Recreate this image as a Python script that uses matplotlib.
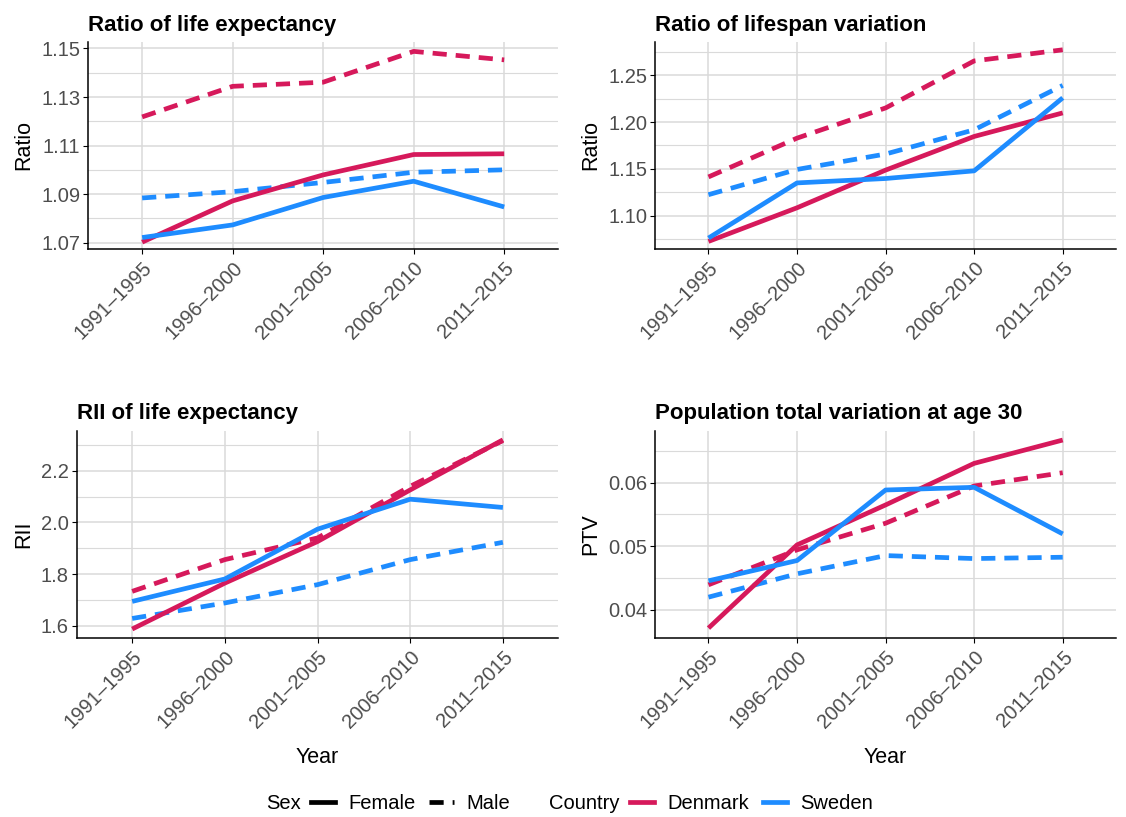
import matplotlib
matplotlib.use('Agg')
import matplotlib.pyplot as plt
from matplotlib.lines import Line2D
from matplotlib.ticker import FixedLocator

plt.rcParams['font.family'] = ['Liberation Sans', 'DejaVu Sans']

periods = ['1991–1995', '1996–2000', '2001–2005', '2006–2010', '2011–2015']

# Ratio of life expectancy
le_dk_f = [1.0702, 1.0872, 1.0979, 1.1063, 1.1066]
le_dk_m = [1.1218, 1.1344, 1.1361, 1.1488, 1.1453]
le_se_f = [1.0721, 1.0773, 1.0886, 1.0953, 1.0847]
le_se_m = [1.0884, 1.0910, 1.0948, 1.0990, 1.1000]

# Ratio of lifespan variation
lv_dk_f = [1.0723, 1.1083, 1.1486, 1.1846, 1.2098]
lv_dk_m = [1.1413, 1.1828, 1.2151, 1.2654, 1.2773]
lv_se_f = [1.0759, 1.1349, 1.1396, 1.1478, 1.2259]
lv_se_m = [1.1223, 1.1493, 1.1658, 1.1917, 1.2392]

# RII of life expectancy
rii_dk_f = [1.587, 1.765, 1.926, 2.126, 2.320]
rii_dk_m = [1.733, 1.856, 1.940, 2.140, 2.317]
rii_se_f = [1.694, 1.781, 1.974, 2.090, 2.058]
rii_se_m = [1.628, 1.688, 1.759, 1.856, 1.923]

# Population total variation at age 30
ptv_dk_f = [0.03712, 0.05021, 0.05650, 0.06304, 0.06671]
ptv_dk_m = [0.04393, 0.04943, 0.05362, 0.05948, 0.06157]
ptv_se_f = [0.04456, 0.04775, 0.05885, 0.05927, 0.05194]
ptv_se_m = [0.04199, 0.04566, 0.04853, 0.04806, 0.04827]

# y ticks per panel
le_ticks = [1.07, 1.09, 1.11, 1.13, 1.15]
lv_ticks = [1.10, 1.15, 1.20, 1.25]
rii_ticks = [1.6, 1.8, 2.0, 2.2]
ptv_ticks = [0.04, 0.05, 0.06]

DK = '#D6195B'
SE = '#1E8CFF'
GRID = '#DADADA'
DASH = (0, (3.0, 1.9))
LW = 3.4
TICK_FS = 14.5
TICK_COL = '#4D4D4D'
LEG_FS = 14.5

panels = [
    ('Ratio of life expectancy', 'Ratio', (le_dk_f, le_dk_m, le_se_f, le_se_m),
     (1.0673, 1.1528), le_ticks, '{:.2f}', [0.078, 0.695, 0.418, 0.254]),
    ('Ratio of lifespan variation', 'Ratio', (lv_dk_f, lv_dk_m, lv_se_f, lv_se_m),
     (1.064, 1.286), lv_ticks, '{:.2f}', [0.582, 0.695, 0.409, 0.254]),
    ('RII of life expectancy', 'RII', (rii_dk_f, rii_dk_m, rii_se_f, rii_se_m),
     (1.552, 2.356), rii_ticks, '{:.1f}', [0.068, 0.219, 0.428, 0.254]),
    ('Population total variation at age 30', 'PTV', (ptv_dk_f, ptv_dk_m, ptv_se_f, ptv_se_m),
     (0.03555, 0.0682), ptv_ticks, '{:.2f}', [0.582, 0.219, 0.409, 0.254]),
]

fig = plt.figure(figsize=(11.26, 8.17), dpi=100)
fig.patch.set_facecolor('white')

x = list(range(len(periods)))
for i, (title, ylab, (dk_f, dk_m, se_f, se_m), ylim, ticks, fmt, rect) in enumerate(panels):
    ax = fig.add_axes(rect)
    ax.plot(x, dk_m, color=DK, lw=LW, ls=DASH, dash_capstyle='butt')
    ax.plot(x, se_m, color=SE, lw=LW, ls=DASH, dash_capstyle='butt')
    ax.plot(x, dk_f, color=DK, lw=LW, solid_capstyle='butt')
    ax.plot(x, se_f, color=SE, lw=LW, solid_capstyle='butt')

    ax.set_xlim(-0.6, 4.6)
    ax.set_ylim(*ylim)
    ax.set_xticks(x)
    ax.set_xticklabels(periods, rotation=45, ha='right', rotation_mode='anchor',
                       fontsize=TICK_FS, color=TICK_COL)

    # minor grid lines sit halfway between the labelled ones
    step = ticks[1] - ticks[0]
    minors = [t - step / 2 for t in ticks] + [ticks[-1] + step / 2]
    ax.yaxis.set_major_locator(FixedLocator(ticks))
    ax.yaxis.set_minor_locator(FixedLocator(minors))
    ax.yaxis.set_major_formatter(lambda v, p, f=fmt: f.format(v))
    ax.tick_params(axis='y', labelsize=TICK_FS, labelcolor=TICK_COL, pad=2)
    ax.tick_params(axis='x', pad=3)
    ax.tick_params(which='minor', length=0)
    ax.tick_params(which='major', length=3.5, width=0.8, color='black')

    ax.grid(True, which='major', color=GRID, lw=1.1)
    ax.grid(True, which='minor', axis='y', color=GRID, lw=0.8)
    ax.set_axisbelow(True)
    for s in ['top', 'right']:
        ax.spines[s].set_visible(False)
    for s in ['left', 'bottom']:
        ax.spines[s].set_linewidth(1.1)
        ax.spines[s].set_color('black')

    ax.set_title(title, loc='left', fontsize=16, fontweight='bold', pad=8)
    ax.set_ylabel(ylab, fontsize=15.5, labelpad=5)
    if i >= 2:
        ax.set_xlabel('Year', fontsize=15.5)
        ax.xaxis.set_label_coords(0.5, -0.575)
        ax.xaxis.label.set_va('center')

# Legend row
fy = 0.017
fig.text(0.236, fy, 'Sex', fontsize=LEG_FS, va='center', ha='left')
sex_handles = [Line2D([], [], color='black', lw=LW),
               Line2D([], [], color='black', lw=LW, ls=DASH, dash_capstyle='butt')]
fig.legend(sex_handles, ['Female', 'Male'], loc='center left', bbox_to_anchor=(0.276, fy),
           ncol=2, frameon=False, fontsize=LEG_FS, handlelength=1.2, handletextpad=0.65,
           columnspacing=0.7, borderaxespad=0, borderpad=0)
fig.text(0.488, fy, 'Country', fontsize=LEG_FS, va='center', ha='left')
ctry_handles = [Line2D([], [], color=DK, lw=LW), Line2D([], [], color=SE, lw=LW)]
fig.legend(ctry_handles, ['Denmark', 'Sweden'], loc='center left', bbox_to_anchor=(0.5595, fy),
           ncol=2, frameon=False, fontsize=LEG_FS, handlelength=1.2, handletextpad=0.65,
           columnspacing=0.7, borderaxespad=0, borderpad=0)

fig.savefig('out.png', dpi=100, facecolor='white')
